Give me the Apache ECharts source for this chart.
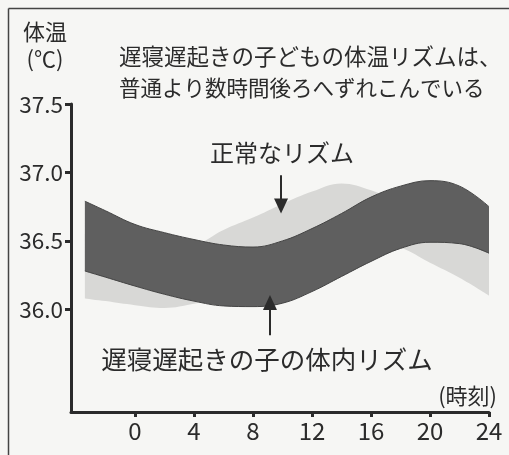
<!DOCTYPE html>
<html><head><meta charset="utf-8">
<script src="https://cdn.jsdelivr.net/npm/echarts@6/dist/echarts.min.js"></script>
<style>html,body{margin:0;padding:0;background:#f6f6f4}#c{width:509px;height:455px}</style>
</head><body><div id="c"></div>
<script>
// hours of day (x)
const hours = [-3.4, -2, 0, 2, 4, 6, 8, 10, 12, 14, 16, 18, 20, 22, 24];
// late-sleeper rhythm band (dark)
const lateTop    = [36.79, 36.72, 36.62, 36.56, 36.51, 36.47, 36.455, 36.50, 36.59, 36.70, 36.82, 36.90, 36.94, 36.90, 36.75];
const lateBottom = [36.28, 36.235, 36.17, 36.11, 36.06, 36.025, 36.02, 36.045, 36.13, 36.24, 36.35, 36.445, 36.49, 36.48, 36.41];
// normal rhythm band (light)
const normalTop    = [36.55, 36.51, 36.47, 36.45, 36.47, 36.58, 36.67, 36.77, 36.86, 36.92, 36.87, 36.78, 36.69, 36.60, 36.54];
const normalBottom = [36.08, 36.06, 36.03, 36.01, 36.04, 36.09, 36.15, 36.25, 36.37, 36.46, 36.48, 36.45, 36.34, 36.23, 36.10];
// axis ticks
const xTicks = [0, 4, 8, 12, 16, 20, 24];
const yTicks = [36.0, 36.5, 37.0, 37.5];
// annotation arrows: [x, yStart, yEnd]
const arrowNormal = [9.9, 36.98, 36.755];
const arrowLate   = [9.15, 35.81, 36.05];
// texts
const titleLines = ['遅寝遅起きの子どもの体温リズムは、', '普通より数時間後ろへずれこんでいる'];
const yName = ['体温', '(℃)'];
const xName = '(時刻)';
const labelNormal = '正常なリズム';
const labelLate = '遅寝遅起きの子の体内リズム';

const ink = '#2b2b2b';
const jp = "'Noto Sans CJK JP', sans-serif";
const num = "'Noto Sans CJK JP', 'Open Sans', sans-serif";

// rows are [value, hour] so that stacking happens on the value (y) dimension
function rows(a) { return hours.map((h, i) => [a[i], h]); }
function diffRows(t, b) { return hours.map((h, i) => [+(t[i] - b[i]).toFixed(4), h]); }
const enc = { x: 1, y: 0 };

const chart = echarts.init(document.getElementById('c'));
chart.setOption({
  backgroundColor: '#f6f6f4',
  animation: false,
  grid: { left: 71, right: 20, top: 104, bottom: 43 },
  xAxis: {
    type: 'value', min: -4.34, max: 24,
    axisLine: { onZero: false, lineStyle: { color: ink, width: 3 } },
    axisTick: { customValues: xTicks, length: 5, lineStyle: { color: ink, width: 3 } },
    axisLabel: { customValues: xTicks, color: ink, fontSize: 24, fontFamily: num, margin: 7 },
    splitLine: { show: false }
  },
  yAxis: {
    type: 'value', min: 35.25, max: 37.5,
    axisLine: { show: true, onZero: false, lineStyle: { color: ink, width: 3 } },
    axisTick: { show: true, customValues: yTicks, length: 6, lineStyle: { color: ink, width: 3 } },
    axisLabel: { customValues: yTicks, color: ink, fontSize: 22.5, fontFamily: num, margin: 8,
      formatter: v => v.toFixed(1) },
    splitLine: { show: false }
  },
  series: [
    { type: 'line', stack: 'normal', encode: enc, data: rows(normalBottom), smooth: 0.4, symbol: 'none',
      lineStyle: { opacity: 0 } },
    { type: 'line', stack: 'normal', encode: enc, data: diffRows(normalTop, normalBottom), smooth: 0.4, symbol: 'none',
      lineStyle: { opacity: 0 }, areaStyle: { color: '#d8d8d6', opacity: 1 } },
    { type: 'line', stack: 'late', encode: enc, data: rows(lateBottom), smooth: 0.4, symbol: 'none',
      lineStyle: { color: '#444', width: 1 } },
    { type: 'line', stack: 'late', encode: enc, data: diffRows(lateTop, lateBottom), smooth: 0.4, symbol: 'none',
      lineStyle: { color: '#444', width: 1 }, areaStyle: { color: '#5f5f5f', opacity: 1 } },
    { type: 'line', data: [], symbol: 'none',
      markLine: {
        silent: true, symbol: ['none', 'triangle'], symbolSize: [14, 15],
        label: { show: false },
        lineStyle: { color: ink, width: 2, type: 'solid' },
        data: [
          [{ coord: [arrowNormal[0], arrowNormal[1]] }, { coord: [arrowNormal[0], arrowNormal[2]] }],
          [{ coord: [arrowLate[0], arrowLate[1]] }, { coord: [arrowLate[0], arrowLate[2]] }]
        ]
      } }
  ],
  graphic: [
    { type: 'line', shape: { x1: 8.5, y1: 8.5, x2: 509, y2: 8.5 }, style: { stroke: '#444', lineWidth: 1.5 } },
    { type: 'line', shape: { x1: 8.5, y1: 8.5, x2: 8.5, y2: 455 }, style: { stroke: '#444', lineWidth: 1.5 } },
    { type: 'text', x: 45, y: 32, style: { text: yName[0], font: '22px ' + jp, fill: ink, textAlign: 'center', textVerticalAlign: 'middle' } },
    { type: 'text', x: 45, y: 59, style: { text: yName[1], font: '22px ' + jp, fill: ink, textAlign: 'center', textVerticalAlign: 'middle' } },
    { type: 'text', x: 119, y: 56, style: { text: titleLines[0], font: '22.5px ' + jp, fill: ink, textVerticalAlign: 'middle' } },
    { type: 'text', x: 119, y: 88, style: { text: titleLines[1], font: '21.5px ' + jp, fill: ink, textVerticalAlign: 'middle' } },
    { type: 'text', x: 282, y: 153, style: { text: labelNormal, font: '24px ' + jp, fill: ink, textAlign: 'center', textVerticalAlign: 'middle' } },
    { type: 'text', x: 267, y: 359, style: { text: labelLate, font: '25.5px ' + jp, fill: ink, textAlign: 'center', textVerticalAlign: 'middle' } },
    { type: 'text', x: 497, y: 396, style: { text: xName, font: '22px ' + jp, fill: ink, textAlign: 'right', textVerticalAlign: 'middle' } }
  ]
});
</script>
</body></html>
